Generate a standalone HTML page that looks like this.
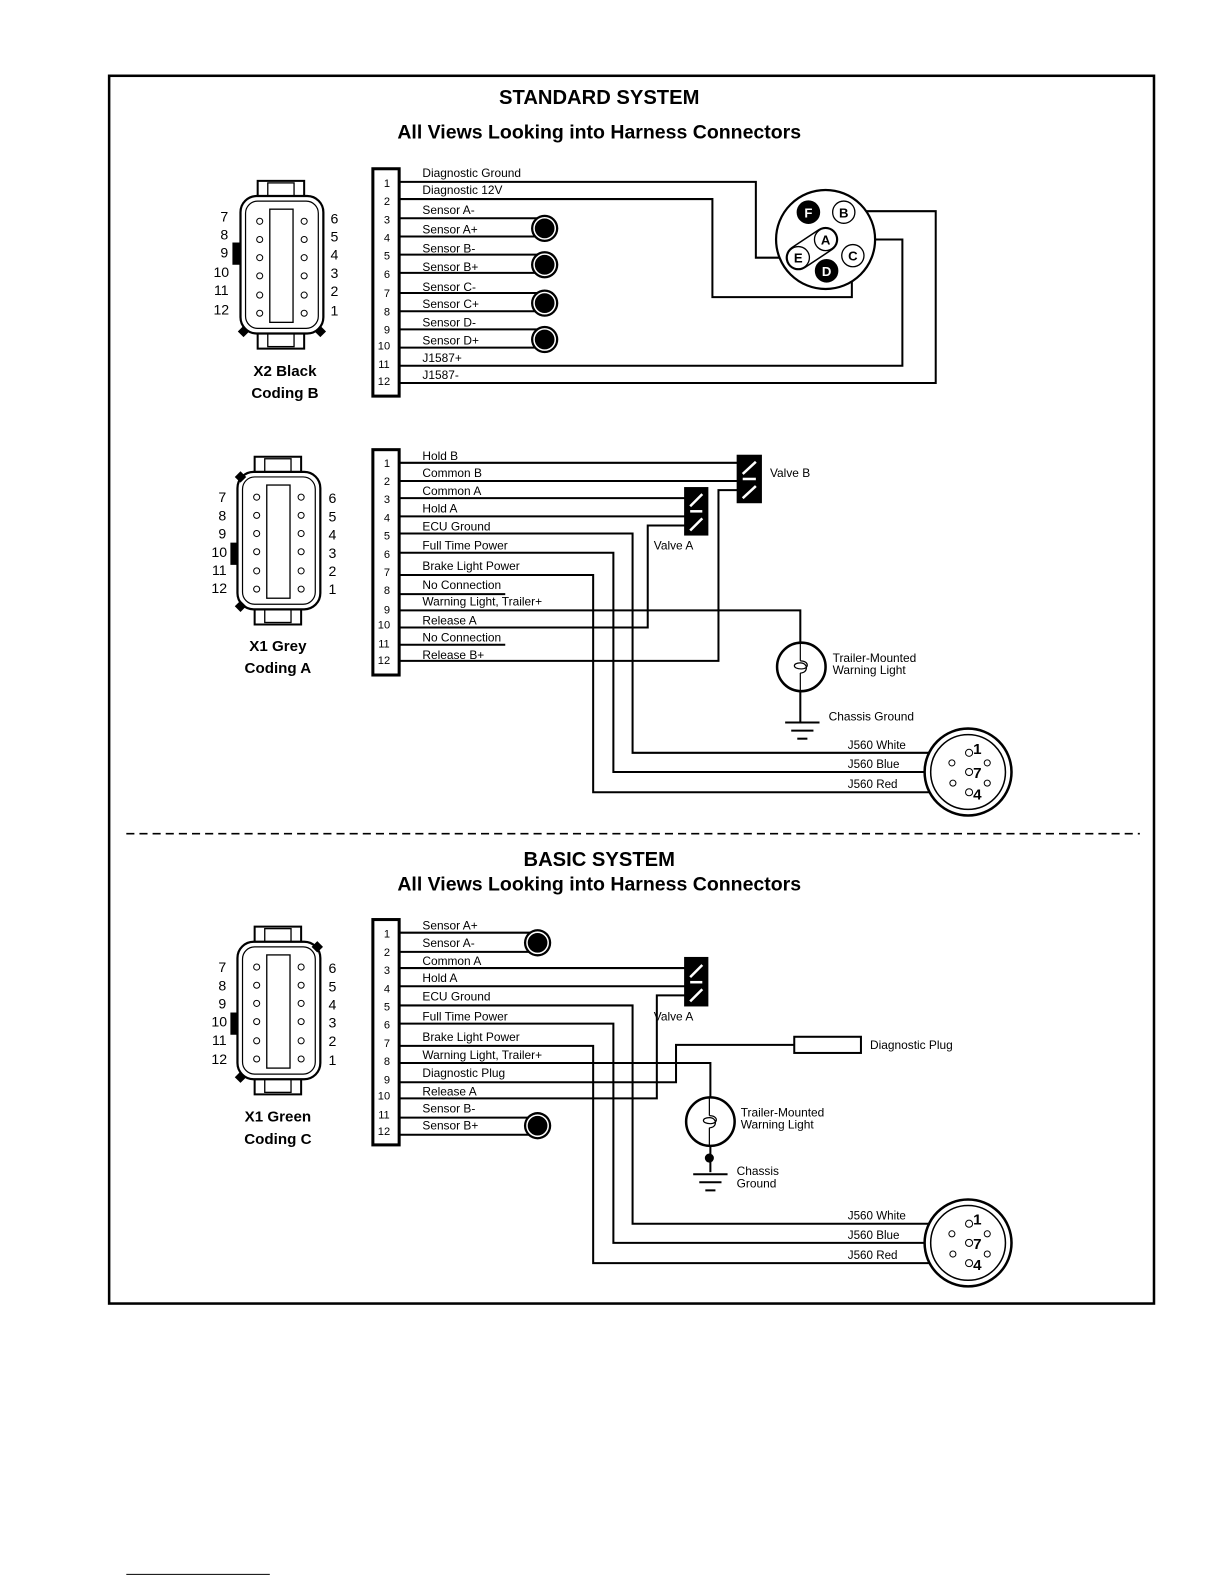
<!DOCTYPE html>
<html><head><meta charset="utf-8"><style>
html,body{margin:0;padding:0;background:#fff;}
svg{display:block;}
text{font-family:"Liberation Sans",Arial,sans-serif;fill:#000;}
.l{font-size:11.8px;}
.j{font-size:11.5px;}
.n{font-size:11px;text-anchor:middle;}
.cn{font-size:14px;text-anchor:middle;}
.b{font-weight:bold;}
</style></head><body>
<svg width="1224" height="1584" viewBox="0 0 1224 1584" xmlns="http://www.w3.org/2000/svg">
<defs>
<g id="conn">
  <rect x="-24" y="-83" width="46" height="16" fill="#fff" stroke="#000" stroke-width="2"/>
  <rect x="-14" y="-81" width="26" height="13" fill="#fff" stroke="#000" stroke-width="1.3"/>
  <rect x="-24" y="67" width="46" height="16" fill="#fff" stroke="#000" stroke-width="2"/>
  <rect x="-14" y="68" width="26" height="13" fill="#fff" stroke="#000" stroke-width="1.3"/>
  <rect x="-41" y="-68" width="82" height="136" rx="16" fill="#fff" stroke="#000" stroke-width="2.2"/>
  <rect x="-36" y="-63" width="72" height="126" rx="12" fill="none" stroke="#000" stroke-width="1.2"/>
  <rect x="-12" y="-55" width="23" height="112" fill="none" stroke="#000" stroke-width="1.3"/>
  <g fill="#fff" stroke="#000" stroke-width="1">
  <circle cx="-22" cy="-43" r="3"/><circle cx="-22" cy="-25" r="3"/><circle cx="-22" cy="-7" r="3"/>
  <circle cx="-22" cy="11" r="3"/><circle cx="-22" cy="30" r="3"/><circle cx="-22" cy="48" r="3"/>
  <circle cx="22" cy="-43" r="3"/><circle cx="22" cy="-25" r="3"/><circle cx="22" cy="-7" r="3"/>
  <circle cx="22" cy="11" r="3"/><circle cx="22" cy="30" r="3"/><circle cx="22" cy="48" r="3"/>
  </g>
</g>
<g id="sens">
  <circle r="13.5" fill="#000"/>
  <circle r="10.5" fill="none" stroke="#fff" stroke-width="1.5"/>
</g>
<g id="dia"><rect x="-4" y="-4" width="8" height="8" fill="#000" transform="rotate(45)"/></g>
<g id="j560">
  <circle r="43" fill="#fff" stroke="#000" stroke-width="2.5"/>
  <circle r="37" fill="none" stroke="#000" stroke-width="1.5"/>
  <g fill="#fff" stroke="#000" stroke-width="1">
  <circle cx="1" cy="-19" r="3.5"/><circle cx="1" cy="0" r="3.5"/><circle cx="1" cy="20" r="3.5"/>
  <circle cx="-16" cy="-9" r="3"/><circle cx="19" cy="-9" r="3"/>
  <circle cx="-15" cy="11" r="3"/><circle cx="19" cy="11" r="3"/>
  </g>
</g>
<g id="gnd" stroke="#000" stroke-width="2">
  <line x1="-17" y1="0" x2="17" y2="0"/><line x1="-11" y1="8" x2="11" y2="8"/><line x1="-5" y1="16" x2="5" y2="16"/>
</g>
<g id="lamp">
  <circle r="24" fill="#fff" stroke="#000" stroke-width="2.5"/>
  <path d="M-1 -24 V-6 M-1 6 V24" stroke="#000" stroke-width="1.2" fill="none"/>
  <path d="M-1 -6 C8 -6 8 2 0 2 C-9 2 -9 -4 -1 -4 C7 -4 7 6 -1 6" stroke="#000" stroke-width="1.2" fill="none"/>
</g>
</defs>
<g transform="scale(1.0105)">
<rect x="108" y="75" width="1034" height="1215" fill="none" stroke="#000" stroke-width="2.5"/>
<text x="593" y="103" text-anchor="middle" class="b" font-size="20">STANDARD SYSTEM</text>
<text x="593" y="137" text-anchor="middle" class="b" font-size="19.3">All Views Looking into Harness Connectors</text>
<line x1="125" y1="825" x2="1128" y2="825" stroke="#000" stroke-width="1.6" stroke-dasharray="8,5"/>
<text x="593" y="857" text-anchor="middle" class="b" font-size="20">BASIC SYSTEM</text>
<text x="593" y="881" text-anchor="middle" class="b" font-size="19.3">All Views Looking into Harness Connectors</text>

<!-- ===== X2 Black ===== -->
<rect x="230" y="240" width="9" height="22" fill="#000"/>
<use href="#conn" x="279" y="262"/>
<use href="#dia" x="241" y="328"/><use href="#dia" x="317" y="328"/>
<g class="cn"><text x="222" y="219">7</text><text x="222" y="237">8</text><text x="222" y="255">9</text><text x="219" y="274">10</text><text x="219" y="292">11</text><text x="219" y="311">12</text>
<text x="331" y="221">6</text><text x="331" y="239">5</text><text x="331" y="257">4</text><text x="331" y="275">3</text><text x="331" y="293">2</text><text x="331" y="312">1</text></g>
<text x="282" y="372" text-anchor="middle" class="b" font-size="15">X2 Black</text>
<text x="282" y="394" text-anchor="middle" class="b" font-size="15">Coding B</text>

<rect x="369" y="167" width="26" height="225" fill="#fff" stroke="#000" stroke-width="3"/>
<g class="n"><text x="383" y="185">1</text><text x="383" y="203">2</text><text x="383" y="221">3</text><text x="383" y="239">4</text><text x="383" y="257">5</text><text x="383" y="275">6</text><text x="383" y="294">7</text><text x="383" y="312">8</text><text x="383" y="330">9</text><text x="380" y="346">10</text><text x="380" y="364">11</text><text x="380" y="381">12</text></g>
<g fill="none" stroke="#000" stroke-width="2">
<polyline points="395,180 748,180 748,255 779,255"/>
<polyline points="395,197 705,197 705,294 843,294 843,264"/>
<line x1="395" y1="216" x2="535" y2="216"/><line x1="395" y1="234" x2="535" y2="234"/>
<line x1="395" y1="252" x2="535" y2="252"/><line x1="395" y1="270" x2="535" y2="270"/>
<line x1="395" y1="290" x2="535" y2="290"/><line x1="395" y1="308" x2="535" y2="308"/>
<line x1="395" y1="326" x2="535" y2="326"/><line x1="395" y1="344" x2="535" y2="344"/>
<polyline points="395,362 893,362 893,237 828,237"/>
<polyline points="395,379 926,379 926,209 845,209"/>
</g>
<use href="#sens" x="539" y="226"/><use href="#sens" x="539" y="262"/><use href="#sens" x="539" y="300"/><use href="#sens" x="539" y="336"/>
<g class="l"><text x="418" y="175">Diagnostic Ground</text><text x="418" y="192">Diagnostic 12V</text><text x="418" y="212">Sensor A-</text><text x="418" y="231">Sensor A+</text><text x="418" y="250">Sensor B-</text><text x="418" y="268">Sensor B+</text><text x="418" y="288">Sensor C-</text><text x="418" y="305">Sensor C+</text><text x="418" y="323">Sensor D-</text><text x="418" y="341">Sensor D+</text><text x="418" y="358">J1587+</text><text x="418" y="375">J1587-</text></g>
<circle cx="817" cy="237" r="49" fill="#fff" stroke="#000" stroke-width="2.2"/>
<line x1="790" y1="255" x2="817" y2="237" stroke="#000" stroke-width="25" stroke-linecap="round"/>
<line x1="790" y1="255" x2="817" y2="237" stroke="#fff" stroke-width="22" stroke-linecap="round"/>
<g stroke="#000" stroke-width="1.3">
<circle cx="800" cy="210" r="11" fill="#000"/><circle cx="835" cy="210" r="11" fill="#fff"/>
<circle cx="817" cy="237" r="11" fill="#fff"/><circle cx="790" cy="255" r="11" fill="#fff"/>
<circle cx="818" cy="268" r="11" fill="#000"/><circle cx="844" cy="253" r="11" fill="#fff"/>
</g>
<g class="b" font-size="13" text-anchor="middle">
<text x="800" y="215" style="fill:#fff">F</text><text x="835" y="215">B</text><text x="817" y="242">A</text><text x="790" y="260">E</text><text x="818" y="273" style="fill:#fff">D</text><text x="844" y="258">C</text></g>

<!-- ===== X1 Grey ===== -->
<rect x="228" y="537" width="9" height="22" fill="#000"/>
<use href="#conn" x="276" y="535"/>
<use href="#dia" x="238" y="472"/><use href="#dia" x="238" y="600"/>
<g class="cn"><text x="220" y="497">7</text><text x="220" y="515">8</text><text x="220" y="533">9</text><text x="217" y="551">10</text><text x="217" y="569">11</text><text x="217" y="587">12</text>
<text x="329" y="498">6</text><text x="329" y="516">5</text><text x="329" y="534">4</text><text x="329" y="552">3</text><text x="329" y="570">2</text><text x="329" y="588">1</text></g>
<text x="275" y="644" text-anchor="middle" class="b" font-size="15">X1 Grey</text>
<text x="275" y="666" text-anchor="middle" class="b" font-size="15">Coding A</text>

<rect x="369" y="445" width="26" height="223" fill="#fff" stroke="#000" stroke-width="3"/>
<g class="n"><text x="383" y="462">1</text><text x="383" y="480">2</text><text x="383" y="498">3</text><text x="383" y="516">4</text><text x="383" y="534">5</text><text x="383" y="552">6</text><text x="383" y="570">7</text><text x="383" y="588">8</text><text x="383" y="607">9</text><text x="380" y="622">10</text><text x="380" y="641">11</text><text x="380" y="657">12</text></g>
<g fill="none" stroke="#000" stroke-width="2">
<line x1="395" y1="458" x2="730" y2="458"/><line x1="395" y1="476" x2="730" y2="476"/>
<line x1="395" y1="493" x2="678" y2="493"/><line x1="395" y1="511" x2="678" y2="511"/>
<polyline points="395,528 626,528 626,745 955,745"/>
<polyline points="395,547 607,547 607,764 955,764"/>
<polyline points="395,569 587,569 587,784 955,784"/>
<line x1="395" y1="588" x2="500" y2="588"/>
<polyline points="395,604 792,604 792,640"/>
<line x1="792" y1="680" x2="792" y2="715"/>
<polyline points="395,621 641,621 641,520 678,520"/>
<line x1="395" y1="638" x2="500" y2="638"/>
<polyline points="395,654 711,654 711,485 730,485"/>
</g>
<g class="l"><text x="418" y="455">Hold B</text><text x="418" y="472">Common B</text><text x="418" y="490">Common A</text><text x="418" y="507">Hold A</text><text x="418" y="525">ECU Ground</text><text x="418" y="544">Full Time Power</text><text x="418" y="564">Brake Light Power</text><text x="418" y="583">No Connection</text><text x="418" y="599">Warning Light, Trailer+</text><text x="418" y="618">Release A</text><text x="418" y="635">No Connection</text><text x="418" y="652">Release B+</text></g>
<rect x="729" y="450" width="25" height="48" fill="#000"/>
<g stroke="#fff" stroke-width="2.5"><line x1="735" y1="469" x2="748" y2="457"/><line x1="735" y1="474" x2="748" y2="474"/><line x1="735" y1="493" x2="748" y2="481"/></g>
<text x="762" y="472" class="l">Valve B</text>
<rect x="677" y="482" width="24" height="48" fill="#000"/>
<g stroke="#fff" stroke-width="2.5"><line x1="683" y1="501" x2="695" y2="489"/><line x1="683" y1="506" x2="695" y2="506"/><line x1="683" y1="525" x2="695" y2="513"/></g>
<text x="647" y="544" class="l">Valve A</text>
<use href="#lamp" x="793" y="660"/>
<text x="824" y="655" class="l">Trailer-Mounted</text><text x="824" y="667" class="l">Warning Light</text>
<use href="#gnd" x="794" y="715"/>
<text x="820" y="713" class="l">Chassis Ground</text>
<use href="#j560" x="958" y="764"/>
<g class="b" font-size="15"><text x="963" y="746">1</text><text x="963" y="770">7</text><text x="963" y="791">4</text></g>
<g class="j"><text x="839" y="741">J560 White</text><text x="839" y="760">J560 Blue</text><text x="839" y="780">J560 Red</text></g>

<!-- ===== X1 Green ===== -->
<rect x="228" y="1002" width="9" height="22" fill="#000"/>
<use href="#conn" x="276" y="1000"/>
<use href="#dia" x="314" y="937"/><use href="#dia" x="238" y="1066"/>
<g class="cn"><text x="220" y="962">7</text><text x="220" y="980">8</text><text x="220" y="998">9</text><text x="217" y="1016">10</text><text x="217" y="1034">11</text><text x="217" y="1053">12</text>
<text x="329" y="963">6</text><text x="329" y="981">5</text><text x="329" y="999">4</text><text x="329" y="1017">3</text><text x="329" y="1035">2</text><text x="329" y="1054">1</text></g>
<text x="275" y="1110" text-anchor="middle" class="b" font-size="15">X1 Green</text>
<text x="275" y="1132" text-anchor="middle" class="b" font-size="15">Coding C</text>

<rect x="369" y="910" width="26" height="223" fill="#fff" stroke="#000" stroke-width="3"/>
<g class="n"><text x="383" y="928">1</text><text x="383" y="946">2</text><text x="383" y="964">3</text><text x="383" y="982">4</text><text x="383" y="1000">5</text><text x="383" y="1018">6</text><text x="383" y="1036">7</text><text x="383" y="1054">8</text><text x="383" y="1072">9</text><text x="380" y="1088">10</text><text x="380" y="1107">11</text><text x="380" y="1123">12</text></g>
<g fill="none" stroke="#000" stroke-width="2">
<line x1="395" y1="923" x2="528" y2="923"/><line x1="395" y1="942" x2="528" y2="942"/>
<line x1="395" y1="958" x2="678" y2="958"/><line x1="395" y1="976" x2="678" y2="976"/>
<polyline points="395,995 626,995 626,1211 955,1211"/>
<polyline points="395,1013 607,1013 607,1230 955,1230"/>
<polyline points="395,1035 587,1035 587,1250 955,1250"/>
<polyline points="395,1052 703,1052 703,1090"/>
<line x1="703" y1="1130" x2="703" y2="1160"/>
<polyline points="395,1071 669,1071 669,1034 786,1034"/>
<polyline points="395,1087 650,1087 650,985 678,985"/>
<line x1="395" y1="1106" x2="528" y2="1106"/><line x1="395" y1="1123" x2="528" y2="1123"/>
</g>
<use href="#sens" x="532" y="933"/><use href="#sens" x="532" y="1114"/>
<g class="l"><text x="418" y="920">Sensor A+</text><text x="418" y="937">Sensor A-</text><text x="418" y="955">Common A</text><text x="418" y="972">Hold A</text><text x="418" y="990">ECU Ground</text><text x="418" y="1010">Full Time Power</text><text x="418" y="1030">Brake Light Power</text><text x="418" y="1048">Warning Light, Trailer+</text><text x="418" y="1066">Diagnostic Plug</text><text x="418" y="1084">Release A</text><text x="418" y="1101">Sensor B-</text><text x="418" y="1118">Sensor B+</text></g>
<rect x="677" y="947" width="24" height="49" fill="#000"/>
<g stroke="#fff" stroke-width="2.5"><line x1="683" y1="967" x2="695" y2="955"/><line x1="683" y1="972" x2="695" y2="972"/><line x1="683" y1="991" x2="695" y2="979"/></g>
<text x="647" y="1010" class="l">Valve A</text>
<rect x="786" y="1026" width="66" height="16" fill="#fff" stroke="#000" stroke-width="2"/>
<text x="861" y="1038" class="l">Diagnostic Plug</text>
<use href="#lamp" x="703" y="1110"/>
<circle cx="702" cy="1146" r="4.5" fill="#000"/>
<use href="#gnd" x="703" y="1162"/>
<text x="733" y="1105" class="l">Trailer-Mounted</text><text x="733" y="1117" class="l">Warning Light</text>
<text x="729" y="1163" class="l">Chassis</text><text x="729" y="1175" class="l">Ground</text>
<use href="#j560" x="958" y="1230"/>
<g class="b" font-size="15"><text x="963" y="1212">1</text><text x="963" y="1236">7</text><text x="963" y="1257">4</text></g>
<g class="j"><text x="839" y="1207">J560 White</text><text x="839" y="1226">J560 Blue</text><text x="839" y="1246">J560 Red</text></g>

<line x1="125" y1="1558" x2="267" y2="1558" stroke="#000" stroke-width="1"/>
</g>
</svg>
</body></html>
